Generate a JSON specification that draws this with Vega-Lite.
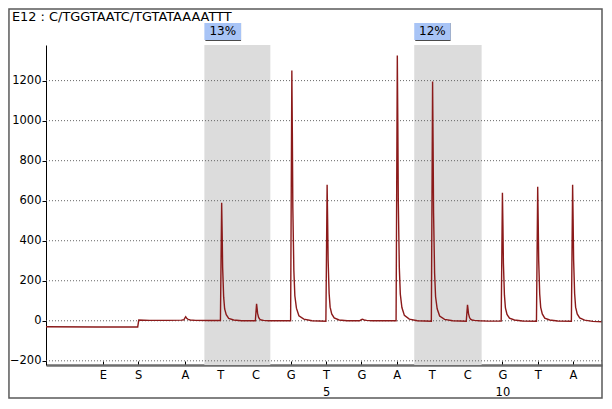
{
  "$schema": "https://vega.github.io/schema/vega-lite/v6.json",
  "width": 556,
  "height": 320,
  "autosize": {"type": "none"},
  "padding": {"left": 46, "top": 45, "right": 10, "bottom": 44},
  "background": "white",
  "config": {
    "view": {"stroke": null},
    "axis": {"labelFont": "DejaVu Sans", "labelFontSize": 11.5, "labelColor": "black", "title": null}
  },
  "datasets": {
    "signal": [
      {"x": -2.94, "y": -30}, {"x": -1.5, "y": -31}, {"x": -0.34, "y": -31}, {"x": -0.31, "y": 4},
      {"x": 0.0, "y": 2}, {"x": 0.5, "y": 2}, {"x": 0.9, "y": 3},
      {"x": 0.97, "y": 5}, {"x": 1.0, "y": 15}, {"x": 1.02, "y": 20}, {"x": 1.05, "y": 12}, {"x": 1.09, "y": 7}, {"x": 1.15, "y": 4}, {"x": 1.3, "y": 2}, {"x": 1.7, "y": 1},
      {"x": 2.005, "y": 1}, {"x": 2.04, "y": 590}, {"x": 2.054, "y": 442}, {"x": 2.068, "y": 266}, {"x": 2.097, "y": 118}, {"x": 2.125, "y": 59}, {"x": 2.17, "y": 30}, {"x": 2.24, "y": 12}, {"x": 2.38, "y": 4}, {"x": 2.61, "y": 0},
      {"x": 2.995, "y": 0}, {"x": 3.03, "y": 85}, {"x": 3.044, "y": 64}, {"x": 3.058, "y": 38}, {"x": 3.087, "y": 17}, {"x": 3.115, "y": 9}, {"x": 3.16, "y": 4}, {"x": 3.23, "y": 2}, {"x": 3.37, "y": 0}, {"x": 3.6, "y": 0},
      {"x": 3.995, "y": 0}, {"x": 4.03, "y": 1250}, {"x": 4.044, "y": 938}, {"x": 4.058, "y": 563}, {"x": 4.087, "y": 250}, {"x": 4.115, "y": 125}, {"x": 4.16, "y": 63}, {"x": 4.23, "y": 25}, {"x": 4.37, "y": 8}, {"x": 4.6, "y": 0},
      {"x": 4.995, "y": -2}, {"x": 5.03, "y": 680}, {"x": 5.044, "y": 510}, {"x": 5.058, "y": 306}, {"x": 5.087, "y": 136}, {"x": 5.115, "y": 68}, {"x": 5.16, "y": 34}, {"x": 5.23, "y": 14}, {"x": 5.37, "y": 4}, {"x": 5.6, "y": 0},
      {"x": 5.95, "y": 0}, {"x": 6.0, "y": 6}, {"x": 6.03, "y": 8}, {"x": 6.08, "y": 4}, {"x": 6.15, "y": 2}, {"x": 6.3, "y": 0},
      {"x": 6.985, "y": 0}, {"x": 7.02, "y": 1325}, {"x": 7.034, "y": 994}, {"x": 7.048, "y": 596}, {"x": 7.077, "y": 265}, {"x": 7.105, "y": 133}, {"x": 7.15, "y": 66}, {"x": 7.22, "y": 27}, {"x": 7.36, "y": 8}, {"x": 7.59, "y": 0},
      {"x": 7.985, "y": -2}, {"x": 8.02, "y": 1195}, {"x": 8.034, "y": 896}, {"x": 8.048, "y": 538}, {"x": 8.077, "y": 239}, {"x": 8.105, "y": 120}, {"x": 8.15, "y": 60}, {"x": 8.22, "y": 24}, {"x": 8.36, "y": 7}, {"x": 8.59, "y": 0},
      {"x": 8.975, "y": -2}, {"x": 9.01, "y": 80}, {"x": 9.024, "y": 60}, {"x": 9.038, "y": 36}, {"x": 9.067, "y": 16}, {"x": 9.095, "y": 8}, {"x": 9.14, "y": 4}, {"x": 9.21, "y": 2}, {"x": 9.35, "y": 0}, {"x": 9.58, "y": -2},
      {"x": 9.965, "y": -2}, {"x": 10.0, "y": 640}, {"x": 10.014, "y": 480}, {"x": 10.028, "y": 288}, {"x": 10.057, "y": 128}, {"x": 10.085, "y": 64}, {"x": 10.13, "y": 32}, {"x": 10.2, "y": 13}, {"x": 10.34, "y": 4}, {"x": 10.57, "y": -1},
      {"x": 10.965, "y": -2}, {"x": 11.0, "y": 670}, {"x": 11.014, "y": 503}, {"x": 11.028, "y": 302}, {"x": 11.057, "y": 134}, {"x": 11.085, "y": 67}, {"x": 11.13, "y": 34}, {"x": 11.2, "y": 13}, {"x": 11.34, "y": 4}, {"x": 11.57, "y": -1},
      {"x": 11.955, "y": -2}, {"x": 11.99, "y": 680}, {"x": 12.004, "y": 510}, {"x": 12.018, "y": 306}, {"x": 12.047, "y": 136}, {"x": 12.075, "y": 68}, {"x": 12.12, "y": 34}, {"x": 12.19, "y": 14}, {"x": 12.33, "y": 3}, {"x": 12.56, "y": -3}, {"x": 12.823, "y": -5}
    ],
    "regions": [
      {"start": 1.55, "end": 3.42, "boxEnd": 2.59, "mid": 2.07, "label": "13%"},
      {"start": 7.5, "end": 9.41, "boxEnd": 8.53, "mid": 8.015, "label": "12%"}
    ],
    "grid": [{"v": -200}, {"v": 0}, {"v": 200}, {"v": 400}, {"v": 600}, {"v": 800}, {"v": 1000}, {"v": 1200}],
    "heading": [{"text": "E12 : C/TGGTAATC/TGTATAAAATTT", "x": -3.905, "y": 1498}]
  },
  "layer": [
    {
      "data": {"name": "regions"},
      "mark": {"type": "rect", "color": "#dcdcdc"},
      "encoding": {
        "x": {
          "field": "start", "type": "quantitative",
          "scale": {"domain": [-2.94, 12.823], "nice": false, "zero": false},
          "axis": {
            "values": [-1.33, -0.33, 1, 2, 3, 4, 5, 6, 7, 8, 9, 10, 11, 12],
            "labelExpr": "datum.value < -1 ? 'E' : datum.value < 0 ? 'S' : datum.value == 5 ? ['T', '5'] : datum.value == 10 ? ['G', '10'] : substring('ATCGTGATCGTA', datum.value - 1, datum.value)",
            "labelLineHeight": 17,
            "labelBaseline": "top",
            "labelFlush": false,
            "labelOverlap": false,
            "grid": false,
            "tickSize": -4,
            "tickColor": "black",
            "labelPadding": 8,
            "domainColor": "#6e6e6e",
            "domainWidth": 2.5
          }
        },
        "x2": {"field": "end"}
      }
    },
    {
      "data": {"name": "grid"},
      "mark": {"type": "rule", "color": "#666666", "strokeDash": [1, 2], "strokeWidth": 1},
      "encoding": {
        "y": {
          "field": "v", "type": "quantitative",
          "scale": {"domain": [-221, 1378], "nice": false, "zero": false},
          "axis": {
            "values": [-200, 0, 200, 400, 600, 800, 1000, 1200],
            "format": "d",
            "grid": false,
            "tickSize": 4,
            "tickColor": "black",
            "domainColor": "black",
            "labelPadding": 1
          }
        }
      }
    },
    {
      "data": {"name": "regions"},
      "mark": {"type": "rect", "color": "#4a4a4a", "xOffset": 1, "yOffset": 1},
      "encoding": {
        "x": {"field": "start", "type": "quantitative"},
        "x2": {"field": "boxEnd"},
        "y": {"datum": 1403},
        "y2": {"datum": 1488}
      }
    },
    {
      "data": {"name": "regions"},
      "mark": {"type": "rect", "color": "#a8c4f6"},
      "encoding": {
        "x": {"field": "start", "type": "quantitative"},
        "x2": {"field": "boxEnd"},
        "y": {"datum": 1403},
        "y2": {"datum": 1488}
      }
    },
    {
      "data": {"name": "regions"},
      "mark": {"type": "text", "font": "DejaVu Sans", "fontSize": 12, "color": "black", "baseline": "middle", "align": "center"},
      "encoding": {
        "x": {"field": "mid", "type": "quantitative"},
        "y": {"datum": 1446},
        "text": {"field": "label"}
      }
    },
    {
      "data": {"name": "signal"},
      "mark": {"type": "line", "color": "#8b1a1a", "strokeWidth": 1.4, "interpolate": "linear"},
      "encoding": {
        "x": {"field": "x", "type": "quantitative"},
        "y": {"field": "y", "type": "quantitative"}
      }
    },
    {
      "data": {"values": [{}]},
      "mark": {"type": "rect", "fillOpacity": 0, "stroke": "#5a5a5a", "strokeWidth": 1.5},
      "encoding": {
        "x": {"datum": -3.99},
        "x2": {"datum": 12.823},
        "y": {"datum": 1558},
        "y2": {"datum": -386}
      }
    },
    {
      "data": {"name": "heading"},
      "mark": {"type": "text", "font": "DejaVu Sans", "fontSize": 12.9, "color": "black", "align": "left", "baseline": "alphabetic"},
      "encoding": {
        "x": {"field": "x", "type": "quantitative"},
        "y": {"field": "y", "type": "quantitative"},
        "text": {"field": "text"}
      }
    }
  ]
}
